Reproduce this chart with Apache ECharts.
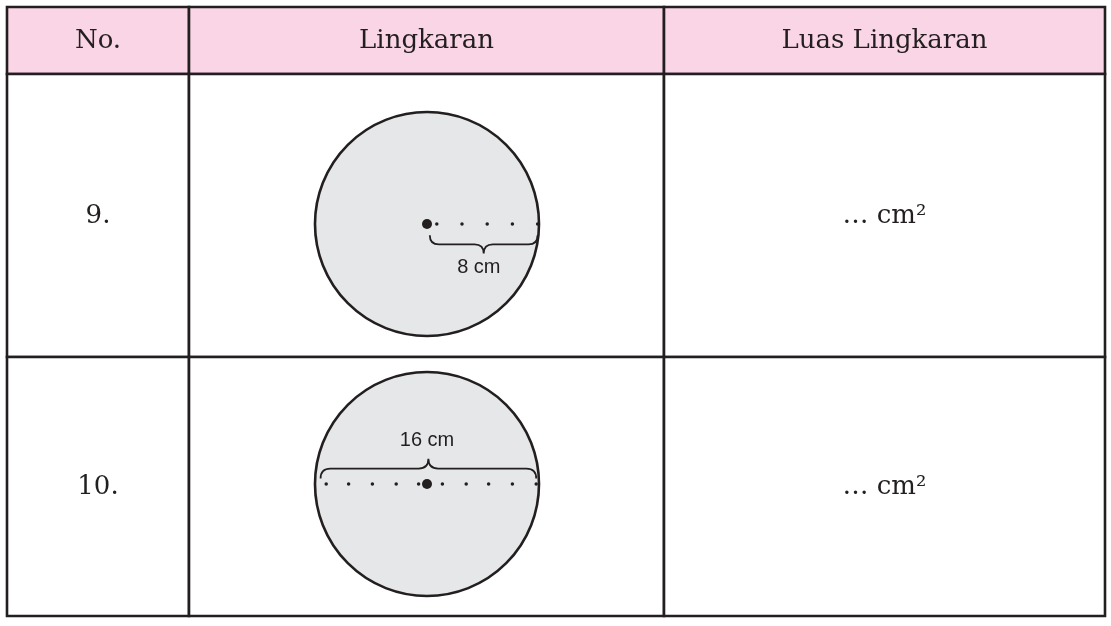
<!DOCTYPE html>
<html><head><meta charset="utf-8">
<script src="https://cdn.jsdelivr.net/npm/echarts@6/dist/echarts.min.js"></script>
<style>html,body{margin:0;padding:0;background:#fff}#c{width:1111px;height:626px}</style>
</head><body><div id="c"></div>
<script>
// ---- data ----
const columns = ['No.', 'Lingkaran', 'Luas Lingkaran'];
const rowNumbers = ['9.', '10.'];
const areaAnswers = ['… cm²', '… cm²'];
const radiusCm = [8, 8];
const measureLabels = ['8 cm', '16 cm'];
// dotted measure line positions (cm from centre)
const dots1 = [0.7, 2.5, 4.3, 6.1, 7.9];
const dots2 = [-7.2, -5.6, -3.9, -2.2, -0.6, 1.1, 2.8, 4.4, 6.1, 7.8];
// braces: [x start, x end, base y, tip y] in cm
const brace1 = [0.2, 7.9, -0.8, -2.1];
const brace2 = [-7.6, 7.8, 0.4, 1.8];
// label anchor (cm)
const label1 = [3.7, -3.1];
const label2 = [0, 3.1];

// ---- layout ----
const colEdges = [0, 182, 657, 1098];
const rowEdges = [0, 67, 350, 609];
const INK = '#231f20';
const SERIF = '"DejaVu Serif", "Liberation Serif", serif';
const SANS = '"Liberation Sans", Arial, sans-serif';

const cells = [];
for (let r = 0; r < 3; r++) for (let c = 0; c < 3; c++) {
  let txt = '';
  if (r === 0) txt = columns[c];
  else if (c === 0) txt = rowNumbers[r - 1];
  else if (c === 2) txt = areaAnswers[r - 1];
  cells.push({ value: [c, r], txt });
}

function tableItem(params, api) {
  const c = api.value(0), r = api.value(1);
  const p0 = api.coord([colEdges[c], rowEdges[r]]);
  const p1 = api.coord([colEdges[c + 1], rowEdges[r + 1]]);
  const d = cells[params.dataIndex];
  return {
    type: 'group',
    children: [
      { type: 'rect', shape: { x: p0[0], y: p0[1], width: p1[0] - p0[0], height: p1[1] - p0[1] },
        style: { fill: r === 0 ? '#f9d5e5' : '#ffffff', stroke: INK, lineWidth: 2.6 } },
      { type: 'text', x: (p0[0] + p1[0]) / 2, y: (p0[1] + p1[1]) / 2 + 1,
        style: { text: d.txt, fill: INK, font: '26px ' + SERIF, align: 'center', verticalAlign: 'middle' } }
    ]
  };
}

function circleItem(params, api) {
  const c = api.coord([api.value(0), api.value(1)]);
  const r = api.size([api.value(2), 0])[0];
  return { type: 'circle', shape: { cx: c[0], cy: c[1], r },
    style: { fill: '#e6e7e8', stroke: INK, lineWidth: 2.6 } };
}

function braceItem(params, api) {
  const x1 = api.value(0), x2 = api.value(1), y0 = api.value(2), yt = api.value(3);
  const a = api.coord([x1, y0]), b = api.coord([x2, y0]), t = api.coord([(x1 + x2) / 2, yt]);
  const ym = (a[1] + t[1]) / 2;
  const q = Math.abs(ym - a[1]);
  const s = Math.sign(b[0] - a[0]);
  const pd = `M${a[0]},${a[1]} Q${a[0]},${ym} ${a[0] + s * q},${ym} L${t[0] - s * q},${ym} Q${t[0]},${ym} ${t[0]},${t[1]} ` +
             `M${t[0]},${t[1]} Q${t[0]},${ym} ${t[0] + s * q},${ym} L${b[0] - s * q},${ym} Q${b[0]},${ym} ${b[0]},${b[1]}`;
  return { type: 'path', shape: { pathData: pd }, style: { fill: 'none', stroke: INK, lineWidth: 1.8 } };
}

function labelItem(params, api) {
  const p = api.coord([api.value(0), api.value(1)]);
  return { type: 'text', x: p[0], y: p[1],
    style: { text: measureLabels[params.seriesIndex === 5 ? 0 : 1], fill: INK, font: '20px ' + SANS, align: 'center', verticalAlign: 'middle' } };
}

const cmAxis = (i) => ({ type: 'value', gridIndex: i, min: -9, max: 9, show: false });
const dotStyle = { color: INK, opacity: 1 };

const option = {
  animation: false,
  backgroundColor: '#ffffff',
  grid: [
    { left: 7, top: 7, width: 1098, height: 609 },
    { left: 301, top: 98, width: 252, height: 252 },
    { left: 301, top: 358, width: 252, height: 252 }
  ],
  xAxis: [
    { type: 'value', gridIndex: 0, min: 0, max: 1098, show: false },
    cmAxis(1), cmAxis(2)
  ],
  yAxis: [
    { type: 'value', gridIndex: 0, min: 0, max: 609, inverse: true, show: false },
    cmAxis(1), cmAxis(2)
  ],
  series: [
    { type: 'custom', xAxisIndex: 0, yAxisIndex: 0, renderItem: tableItem, data: cells.map(d => d.value), clip: false, z: 1 },
    { type: 'custom', xAxisIndex: 1, yAxisIndex: 1, renderItem: circleItem, data: [[0, 0, radiusCm[0]]], clip: false, z: 2 },
    { type: 'custom', xAxisIndex: 2, yAxisIndex: 2, renderItem: circleItem, data: [[0, 0, radiusCm[1]]], clip: false, z: 2 },
    { type: 'custom', xAxisIndex: 1, yAxisIndex: 1, renderItem: braceItem, data: [brace1], clip: false, z: 3 },
    { type: 'custom', xAxisIndex: 2, yAxisIndex: 2, renderItem: braceItem, data: [brace2], clip: false, z: 3 },
    { type: 'custom', xAxisIndex: 1, yAxisIndex: 1, renderItem: labelItem, data: [label1], clip: false, z: 3 },
    { type: 'custom', xAxisIndex: 2, yAxisIndex: 2, renderItem: labelItem, data: [label2], clip: false, z: 3 },
    { type: 'scatter', xAxisIndex: 1, yAxisIndex: 1, symbolSize: 3.5, itemStyle: dotStyle, data: dots1.map(x => [x, 0]), z: 4, silent: true },
    { type: 'scatter', xAxisIndex: 2, yAxisIndex: 2, symbolSize: 3.5, itemStyle: dotStyle, data: dots2.map(x => [x, 0]), z: 4, silent: true },
    { type: 'scatter', xAxisIndex: 1, yAxisIndex: 1, symbolSize: 10, itemStyle: dotStyle, data: [[0, 0]], z: 5, silent: true },
    { type: 'scatter', xAxisIndex: 2, yAxisIndex: 2, symbolSize: 10, itemStyle: dotStyle, data: [[0, 0]], z: 5, silent: true }
  ]
};
echarts.init(document.getElementById('c'), null, { renderer: 'canvas' }).setOption(option);
</script></body></html>
